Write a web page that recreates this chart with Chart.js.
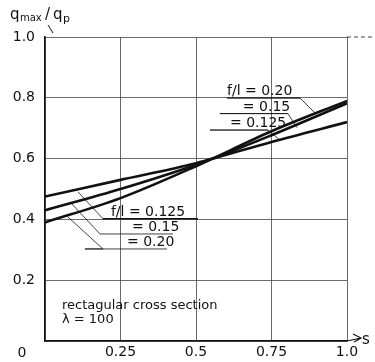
<!DOCTYPE html>
<html>
<head>
<meta charset="utf-8">
<script src="https://cdn.jsdelivr.net/npm/chart.js@4/dist/chart.umd.min.js"></script>
<style>
  html, body { margin: 0; padding: 0; background: #fff; }
  #wrap { width: 375px; height: 362px; }
</style>
</head>
<body>
<div id="wrap"><canvas id="chart" width="375" height="362"></canvas></div>
<script>
// values
const sValues = [0, 0.25, 0.5, 0.75, 1.0];
const ratio0125 = [0.475, 0.530, 0.585, 0.655, 0.720];
const ratio015 = [0.430, 0.500, 0.580, 0.677, 0.782];
const ratio020 = [0.390, 0.470, 0.575, 0.690, 0.790];

const xTicks = [0.25, 0.5, 0.75, 1.0];
const xTickLabels = ['0.25', '0.5', '0.75', '1.0'];
const yTickLabels = ['0.2', '0.4', '0.6', '0.8', '1.0'];

// curve labels: text, point on curve (s, value), underline end (s, value)
const labelTexts = ['f/l = 0.20', '= 0.15', '= 0.125', 'f/l = 0.125', '= 0.15', '= 0.20'];
const labelCurveS = [0.894, 0.834, 0.778, 0.109, 0.086, 0.076];
const labelCurveV = [0.750, 0.702, 0.661, 0.491, 0.454, 0.408];

const font = '"DejaVu Sans", sans-serif';

function toPoints(vals) {
  return sValues.map((s, i) => ({ x: s, y: vals[i] }));
}

const decorations = {
  id: 'decorations',
  afterDraw(chart) {
    const c = chart.ctx;
    const x = chart.scales.x, y = chart.scales.y;
    const px = v => x.getPixelForValue(v);
    const py = v => y.getPixelForValue(v);
    c.save();
    c.strokeStyle = '#111';
    c.fillStyle = '#111';
    c.lineWidth = 0.8;

    // annotation layout (leader knee + underline, in pixels relative to curve point)
    const ann = [
      { dx: -15, dy: -15, len: 73, tx: 0, ty: -3 },
      { dx: -9, dy: -14, len: 68, tx: 23, ty: -3 },
      { dx: -12, dy: -10, len: 58, tx: 20, ty: -3 },
      { dx: 25, dy: 27, len: 95, tx: 8, ty: -3 },
      { dx: 29, dy: 31, len: 73, tx: 32, ty: -3 },
      { dx: 35, dy: 32, len: 82, tx: 42, ty: -3 }
    ];
    labelTexts.forEach((t, i) => {
      const cx = px(labelCurveS[i]), cy = py(labelCurveV[i]);
      const a = ann[i];
      const kx = cx + a.dx, ky = cy + a.dy;
      c.beginPath();
      c.moveTo(cx, cy);
      c.lineTo(kx, ky);
      if (i < 3) {
        c.lineTo(kx - a.len, ky);
      } else {
        c.lineTo(kx - (i === 5 ? 18 : 0) + (i === 5 ? 0 : 0), ky);
      }
      c.stroke();
      c.font = '14px ' + font;
      c.textBaseline = 'alphabetic';
      c.textAlign = 'left';
      let ux0, ux1;
      if (i < 3) { ux0 = kx - a.len; ux1 = kx; }
      else { ux0 = kx - (i === 5 ? 18 : 0); ux1 = ux0 + a.len; }
      c.lineWidth = i === 3 ? 1.6 : 0.8;
      c.beginPath();
      c.moveTo(ux0, ky);
      c.lineTo(ux1, ky);
      c.stroke();
      c.lineWidth = 0.8;
      c.fillText(t, ux0 + a.tx, ky + a.ty);
    });

    // top line extension, dashed
    c.setLineDash([4, 3]);
    c.beginPath();
    c.moveTo(px(1), py(1));
    c.lineTo(375, py(1));
    c.stroke();
    c.setLineDash([]);

    // s arrow
    const ax = px(1), ay = py(0);
    c.lineWidth = 1.2;
    c.beginPath();
    c.moveTo(ax, ay);
    c.lineTo(ax + 14, ay - 3);
    c.moveTo(ax + 6, ay - 7);
    c.lineTo(ax + 14, ay - 3);
    c.lineTo(ax + 7, ay + 1);
    c.stroke();
    c.font = '15px ' + font;
    c.fillText('s', ax + 15, ay + 3);

    // origin label
    c.font = '14px ' + font;
    c.textAlign = 'center';
    c.fillText('0', 22, ay + 16);

    // y axis title q_max / q_p
    c.textAlign = 'left';
    c.font = '15px ' + font;
    c.fillText('q', 10, 19);
    c.font = '10px ' + font;
    c.fillText('max', 20, 21);
    c.font = '15px ' + font;
    c.fillText('/', 45, 19);
    c.fillText('q', 53, 19);
    c.font = '11px ' + font;
    c.fillText('p', 63, 22);
    c.lineWidth = 1;
    c.beginPath();
    c.moveTo(px(0) + 3, 25);
    c.lineTo(px(0) + 8, 33);
    c.stroke();

    // note
    c.font = '13px ' + font;
    c.fillText('rectagular cross section', 62, 309);
    c.fillText('\u03bb = 100', 62, 323);
    c.restore();
  }
};

const lineStyle = {
  borderColor: '#111',
  borderWidth: 2.6,
  pointRadius: 0,
  fill: false,
  cubicInterpolationMode: 'monotone'
};

new Chart(document.getElementById('chart'), {
  type: 'line',
  data: {
    datasets: [
      Object.assign({ label: 'f/l = 0.125', data: toPoints(ratio0125) }, lineStyle),
      Object.assign({ label: 'f/l = 0.15', data: toPoints(ratio015) }, lineStyle),
      Object.assign({ label: 'f/l = 0.20', data: toPoints(ratio020) }, lineStyle)
    ]
  },
  options: {
    responsive: false,
    devicePixelRatio: 1,
    animation: false,
    layout: { padding: { top: 37, right: 28, left: 0, bottom: 0 } },
    plugins: { legend: { display: false }, tooltip: { enabled: false } },
    scales: {
      x: {
        type: 'linear', min: 0, max: 1,
        afterFit(s) { s.height = 21; },
        afterBuildTicks(s) { s.ticks = [0].concat(xTicks).map(v => ({ value: v })); },
        ticks: {
          padding: 3, maxRotation: 0, autoSkip: false, color: '#111',
          font: { family: font, size: 14 },
          callback: v => { const i = xTicks.indexOf(v); return i < 0 ? '' : xTickLabels[i]; }
        },
        grid: { color: '#444', lineWidth: 0.8, drawTicks: false },
        border: { color: '#111', width: 1.5 }
      },
      y: {
        min: 0, max: 1,
        afterFit(s) { s.width = 45; },
        afterBuildTicks(s) { s.ticks = [0, 0.2, 0.4, 0.6, 0.8, 1.0].map(v => ({ value: v })); },
        ticks: {
          padding: 10, color: '#111',
          font: { family: font, size: 14 },
          callback: (v, i) => i === 0 ? '' : yTickLabels[i - 1]
        },
        grid: { color: '#444', lineWidth: 0.8, drawTicks: false },
        border: { color: '#111', width: 1.5 }
      }
    }
  },
  plugins: [decorations]
});
</script>
</body>
</html>
